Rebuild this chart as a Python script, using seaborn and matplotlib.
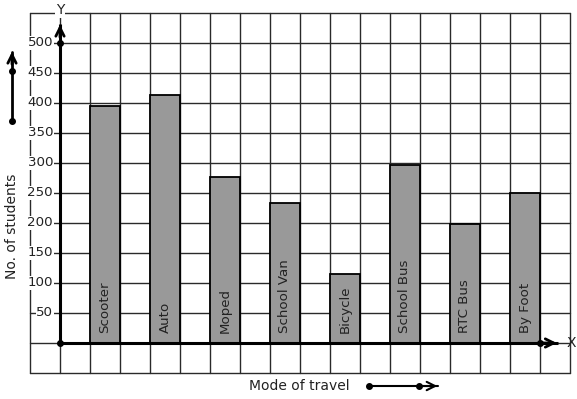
import matplotlib
matplotlib.use("Agg")
import matplotlib.pyplot as plt
import seaborn as sns
import pandas as pd
import numpy as np

modes = ["Scooter", "Auto", "Moped", "School Van", "Bicycle", "School Bus", "RTC Bus", "By Foot"]
students = [395, 413, 277, 233, 115, 296, 198, 250]
y_ticks = [50, 100, 150, 200, 250, 300, 350, 400, 450, 500]
y_tick_labels = ["50", "100", "150", "200", "250", "300", "350", "400", "450", "500"]

sns.set_theme(style="white")
plt.rcParams['font.family'] = ['DejaVu Sans']

fig = plt.figure(figsize=(5.77, 3.99), dpi=100)
ax = fig.add_axes([0, 0, 1, 1])

# pixel -> data mapping: x=(px-60)/30, y=(343-py)*5/3
xlim = (-2, 517 / 30)
ylim = ((343 - 399) * 5 / 3, 343 * 5 / 3)

df = pd.DataFrame({"pos": [2 * i + 1.5 for i in range(len(modes))],
                   "students": students, "mode": modes})

# grid
grid_c = "#2a2a2a"
for gx in np.arange(-1, 18, 1):
    ax.plot([gx, gx], [-50, 550], color=grid_c, lw=1.0, zorder=1)
for gy in np.arange(-50, 551, 50):
    ax.plot([-1, 17], [gy, gy], color=grid_c, lw=1.0, zorder=1)

sns.barplot(data=df, x="pos", y="students", native_scale=True, width=0.5,
            color="#999999", saturation=1, edgecolor="black", linewidth=1.3,
            errorbar=None, ax=ax, zorder=3)

for p, m in zip(df["pos"], modes):
    ax.text(p, 16.7, m, rotation=90, ha="center", va="bottom", fontsize=9.6,
            color="#222222", zorder=4)

# axes lines
ax.plot([0, 0], [0, 532], color="black", lw=2.2, zorder=5, solid_capstyle="butt")
ax.plot([0, 16.6], [0, 0], color="black", lw=2.2, zorder=5, solid_capstyle="butt")
ax.annotate("", xy=(0, 535), xytext=(0, 505),
            arrowprops=dict(arrowstyle="->", color="black", lw=2, mutation_scale=15), zorder=6)
ax.annotate("", xy=(16.65, 0), xytext=(16.0, 0),
            arrowprops=dict(arrowstyle="->", color="black", lw=2, mutation_scale=15), zorder=6)
ax.plot([0, 0, 16], [0, 500, 0], "o", color="black", ms=4, zorder=7)
ax.text(0, 555, "Y", ha="center", va="center", fontsize=10, color="#222222",
        bbox=dict(facecolor="white", edgecolor="none", pad=0.5), zorder=6)
ax.text(16.9, 0, "X", ha="left", va="center", fontsize=10, color="#222222", zorder=6)

for t, lab in zip(y_ticks, y_tick_labels):
    ax.text(-0.23, t, lab, ha="right", va="center", fontsize=9.6, color="#222222",
            bbox=dict(facecolor="white", edgecolor="none", pad=0.3), zorder=4)

# left label and arrow
ax.text(-1.6, 195, "No. of students", rotation=90, ha="center", va="center",
        fontsize=10, color="#222222")
ax.plot([-1.6, -1.6], [370, 485], color="black", lw=2, zorder=5)
ax.annotate("", xy=(-1.6, 490), xytext=(-1.6, 460),
            arrowprops=dict(arrowstyle="->", color="black", lw=2, mutation_scale=15), zorder=6)
ax.plot([-1.6, -1.6], [370, 453.3], "o", color="black", ms=4, zorder=7)

# bottom label and arrow
ax.text(7.97, -71.7, "Mode of travel", ha="center", va="center", fontsize=10, color="#222222")
ax.plot([10.3, 12.6], [-71.7, -71.7], color="black", lw=1.5, zorder=5)
ax.annotate("", xy=(12.67, -71.7), xytext=(12.0, -71.7),
            arrowprops=dict(arrowstyle="->", color="black", lw=1.5, mutation_scale=15), zorder=6)
ax.plot([10.3, 11.97], [-71.7, -71.7], "o", color="black", ms=4, zorder=7)

ax.set_xlim(*xlim)
ax.set_ylim(*ylim)
ax.set_axis_off()

fig.savefig("out.png", dpi=100, facecolor="white")
